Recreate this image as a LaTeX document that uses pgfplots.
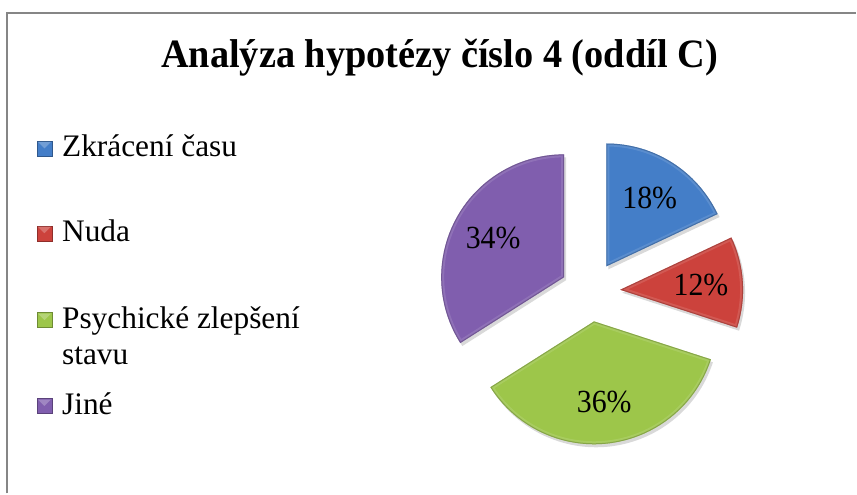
\documentclass[border=0pt]{standalone}
\usepackage{pgfplots}
\pgfplotsset{compat=1.18}
\usepackage{pgfplotstable}
\usepackage{fontspec}
\setmainfont{Liberation Serif}

\definecolor{slice0}{RGB}{68,126,200}
\definecolor{slice1}{RGB}{204,66,60}
\definecolor{slice2}{RGB}{157,198,74}
\definecolor{slice3}{RGB}{128,94,174}
\definecolor{frame}{RGB}{134,134,134}

% shares of the pie, in percent, clockwise from 12 o'clock
\pgfplotstableread{
share
18
12
36
34
}\piedata

\begin{document}
\begin{tikzpicture}
\begin{axis}[
    x=1bp, y=1bp,
    xmin=0, xmax=857,
    ymin=0, ymax=494,
    hide axis,
    clip=false,
]
\path (axis cs:0,0) rectangle (axis cs:857,494);
\draw[frame, line width=2bp] (axis cs:7,0) -- (axis cs:7,481) -- (axis cs:857,481);

\node[font=\fontsize{38.5}{42}\selectfont\bfseries, anchor=base, yscale=1.05]
    at (axis cs:440,426) {Analýza hypotézy číslo 4 (oddíl C)};

% legend
\def\legkey#1#2{%
    \fill[#1, draw=#1!70!black] (axis cs:37,#2) rectangle (axis cs:52,#2+15);
    \fill[white, opacity=0.25] (axis cs:38,#2+14) -- (axis cs:51,#2+14) -- (axis cs:44.5,#2+7.5) -- cycle;
}
\legkey{slice0}{338}
\legkey{slice1}{253}
\legkey{slice2}{166}
\legkey{slice3}{80}
\begin{scope}[every node/.style={font=\fontsize{31.5}{34}\selectfont, anchor=base west, inner sep=0pt}]
\node at (axis cs:62,337) {Zkrácení času};
\node at (axis cs:62,252) {Nuda};
\node at (axis cs:62,165) {Psychické zlepšení};
\node at (axis cs:62,129) {stavu};
\node at (axis cs:62,79) {Jiné};
\end{scope}

% exploded pie
\def\astart{90}
\pgfplotsforeachungrouped \i in {0,1,2,3}{%
    \pgfplotstablegetelem{\i}{share}\of\piedata
    \let\share\pgfplotsretval
    \pgfmathsetmacro\aend{\astart-3.6*\share}
    \pgfmathsetmacro\amid{(\astart+\aend)/2}
    \pgfmathsetmacro\vx{591+30*cos(\amid)}
    \pgfmathsetmacro\vy{202+30*sin(\amid)}
    \pgfmathsetmacro\lx{\vx+81*cos(\amid)}
    \pgfmathsetmacro\ly{\vy+81*sin(\amid)}
    \edef\temp{%
        \noexpand\fill[black, opacity=0.15, xshift=2bp, yshift=-3bp]
            (axis cs:\vx,\vy) -- ++(\astart:123bp)
            arc[start angle=\astart, end angle=\aend, radius=123bp] -- cycle;
        \noexpand\fill[slice\i]
            (axis cs:\vx,\vy) -- ++(\astart:123bp)
            arc[start angle=\astart, end angle=\aend, radius=123bp] -- cycle;
        \noexpand\begin{scope}
        \noexpand\clip
            (axis cs:\vx,\vy) -- ++(\astart:123bp)
            arc[start angle=\astart, end angle=\aend, radius=123bp] -- cycle;
        \noexpand\draw[slice\i!65!white, opacity=0.35, line width=6bp]
            (axis cs:\vx,\vy) -- ++(\astart:123bp)
            arc[start angle=\astart, end angle=\aend, radius=123bp] -- cycle;
        \noexpand\draw[slice\i!60!black, opacity=0.45, line width=2bp]
            (axis cs:\vx,\vy) -- ++(\astart:123bp)
            arc[start angle=\astart, end angle=\aend, radius=123bp] -- cycle;
        \noexpand\end{scope}
        \noexpand\node[font=\noexpand\fontsize{30}{32}\noexpand\selectfont, yscale=1.08]
            at (axis cs:\lx,\ly) {\share\noexpand\%};
    }\temp
    \xdef\astart{\aend}
}
\end{axis}
\end{tikzpicture}
\end{document}
